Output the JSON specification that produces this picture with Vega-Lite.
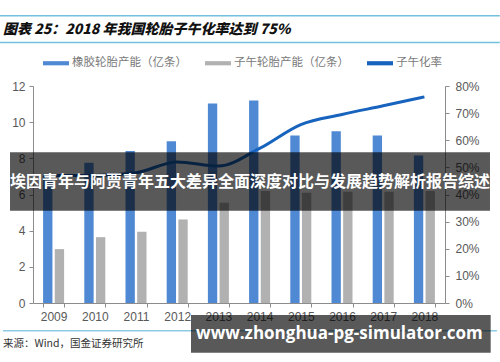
{
  "$schema": "https://vega.github.io/schema/vega-lite/v6.json",
  "width": 412,
  "height": 217,
  "autosize": {"type": "none"},
  "padding": {"left": 33, "top": 86, "right": 55, "bottom": 59},
  "background": "white",
  "title": {
    "text": "图表 25：2018 年我国轮胎子午化率达到 75%",
    "anchor": "start",
    "frame": "group",
    "dx": -30,
    "offset": -22,
    "font": "Noto Sans CJK SC",
    "fontSize": 14,
    "fontWeight": 900,
    "fontStyle": "italic",
    "color": "#111111"
  },
  "datasets": {
    "bars": [
      {"year": "2009", "series": "橡胶轮胎产能（亿条）", "value": 7.1},
      {"year": "2010", "series": "橡胶轮胎产能（亿条）", "value": 7.75},
      {"year": "2011", "series": "橡胶轮胎产能（亿条）", "value": 8.4},
      {"year": "2012", "series": "橡胶轮胎产能（亿条）", "value": 8.95},
      {"year": "2013", "series": "橡胶轮胎产能（亿条）", "value": 11.03},
      {"year": "2014", "series": "橡胶轮胎产能（亿条）", "value": 11.2},
      {"year": "2015", "series": "橡胶轮胎产能（亿条）", "value": 9.26},
      {"year": "2016", "series": "橡胶轮胎产能（亿条）", "value": 9.5},
      {"year": "2017", "series": "橡胶轮胎产能（亿条）", "value": 9.26},
      {"year": "2018", "series": "橡胶轮胎产能（亿条）", "value": 8.16},
      {"year": "2009", "series": "子午轮胎产能（亿条）", "value": 2.98},
      {"year": "2010", "series": "子午轮胎产能（亿条）", "value": 3.64},
      {"year": "2011", "series": "子午轮胎产能（亿条）", "value": 3.94},
      {"year": "2012", "series": "子午轮胎产能（亿条）", "value": 4.62},
      {"year": "2013", "series": "子午轮胎产能（亿条）", "value": 5.54},
      {"year": "2014", "series": "子午轮胎产能（亿条）", "value": 6.2},
      {"year": "2015", "series": "子午轮胎产能（亿条）", "value": 6.1},
      {"year": "2016", "series": "子午轮胎产能（亿条）", "value": 6.15},
      {"year": "2017", "series": "子午轮胎产能（亿条）", "value": 6.15},
      {"year": "2018", "series": "子午轮胎产能（亿条）", "value": 6.2}
    ],
    "rate": [
      {"year": "2009", "rate": 0.47},
      {"year": "2010", "rate": 0.47},
      {"year": "2011", "rate": 0.48},
      {"year": "2012", "rate": 0.52},
      {"year": "2013", "rate": 0.505},
      {"year": "2014", "rate": 0.57},
      {"year": "2015", "rate": 0.658},
      {"year": "2016", "rate": 0.695},
      {"year": "2017", "rate": 0.727},
      {"year": "2018", "rate": 0.76}
    ]
  },
  "layer": [
    {
      "layer": [
        {
          "data": {"name": "bars"},
          "mark": {"type": "bar"},
          "encoding": {
            "x": {
              "field": "year",
              "type": "ordinal",
              "scale": {"paddingInner": 0.49, "paddingOuter": 0.245},
              "axis": {"title": null, "labelAngle": 0, "tickBand": "extent", "labelPadding": 4}
            },
            "xOffset": {
              "field": "series",
              "type": "nominal",
              "scale": {"domain": ["橡胶轮胎产能（亿条）", "子午轮胎产能（亿条）"], "paddingInner": 0.2}
            },
            "y": {
              "field": "value",
              "type": "quantitative",
              "scale": {"domain": [0, 12], "nice": false},
              "axis": {"title": null, "orient": "left", "values": [0, 2, 4, 6, 8, 10, 12], "labelPadding": 4}
            },
            "color": {
              "field": "series",
              "type": "nominal",
              "scale": {
                "domain": ["橡胶轮胎产能（亿条）", "子午轮胎产能（亿条）", "子午化率"],
                "range": ["#4f88d3", "#b1b1b1", "#1763bd"]
              },
              "legend": {
                "title": null,
                "orient": "none",
                "direction": "horizontal",
                "legendX": 10,
                "legendY": -36,
                "symbolType": "M-1,-0.16H1V0.16H-1Z",
                "symbolSize": 676,
                "symbolStrokeWidth": 0,
                "symbolOpacity": 1,
                "labelFont": "Noto Sans CJK SC",
                "labelFontSize": 11.5,
                "labelColor": "#7a7a7a",
                "labelOffset": 3,
                "columnPadding": 18,
                "labelLimit": 200,
                "encode": {
                  "symbols": {"update": {"fill": {"scale": "color", "field": "value"}, "strokeWidth": {"value": 0}}}
                }
              }
            }
          }
        },
        {
          "data": {"name": "rate"},
          "mark": {"type": "line", "interpolate": "monotone", "strokeWidth": 3},
          "encoding": {
            "x": {"field": "year", "type": "ordinal"},
            "y": {
              "field": "rate",
              "type": "quantitative",
              "scale": {"domain": [0, 0.8], "nice": false},
              "axis": {"title": null, "orient": "right", "format": ".0%", "values": [0, 0.1, 0.2, 0.3, 0.4, 0.5, 0.6, 0.7, 0.8], "labelPadding": 6}
            },
            "color": {"datum": "子午化率"}
          }
        }
      ],
      "resolve": {"scale": {"y": "independent"}}
    },
    {
      "data": {"values": [{}]},
      "layer": [
        {
          "mark": {"type": "rule", "color": "#72c0dd", "strokeWidth": 1.5},
          "encoding": {
            "x": {"datum": -0.08, "type": "quantitative", "scale": {"domain": [0, 1], "nice": false, "zero": false}, "axis": null},
            "x2": {"datum": 1.133},
            "y": {"datum": 1.324, "type": "quantitative", "scale": {"domain": [0, 1], "nice": false, "zero": false}, "axis": null}
          }
        },
        {
          "mark": {"type": "rule", "color": "#72c0dd", "strokeWidth": 1.5},
          "encoding": {
            "x": {"datum": -0.08, "type": "quantitative"},
            "x2": {"datum": 1.133},
            "y": {"datum": 1.2, "type": "quantitative"}
          }
        },
        {
          "mark": {"type": "rule", "color": "#8ccbe2", "strokeWidth": 1.5},
          "encoding": {
            "x": {"datum": -0.073, "type": "quantitative"},
            "x2": {"datum": 1.126},
            "y": {"datum": -0.128, "type": "quantitative"}
          }
        },
        {
          "mark": {"type": "text", "align": "left", "baseline": "middle", "font": "Noto Sans CJK SC", "fontSize": 10.5, "color": "#333333"},
          "encoding": {
            "x": {"datum": -0.073, "type": "quantitative"},
            "y": {"datum": -0.189, "type": "quantitative"},
            "text": {"value": "来源：Wind，国金证券研究所"}
          }
        },
        {
          "mark": {"type": "rect", "color": "#000000", "opacity": 0.65},
          "encoding": {
            "x": {"datum": -0.0558, "type": "quantitative"},
            "x2": {"datum": 1.1092},
            "y": {"datum": 0.6945, "type": "quantitative"},
            "y2": {"datum": 0.4253}
          }
        },
        {
          "mark": {"type": "text", "align": "center", "baseline": "middle", "font": "Noto Sans CJK SC", "fontSize": 16, "fontWeight": "bold", "color": "#ffffff"},
          "encoding": {
            "x": {"datum": 0.5267, "type": "quantitative"},
            "y": {"datum": 0.5576, "type": "quantitative"},
            "text": {"value": "埃因青年与阿贾青年五大差异全面深度对比与发展趋势解析报告综述"}
          }
        },
        {
          "mark": {"type": "rect", "color": "#000000", "opacity": 0.65},
          "encoding": {
            "x": {"datum": 0.3835, "type": "quantitative"},
            "x2": {"datum": 1.1109},
            "y": {"datum": -0.0553, "type": "quantitative"},
            "y2": {"datum": -0.229}
          }
        },
        {
          "mark": {"type": "text", "align": "center", "baseline": "middle", "font": "Open Sans", "fontSize": 17, "fontWeight": "bold", "color": "#ffffff"},
          "encoding": {
            "x": {"datum": 0.7437, "type": "quantitative"},
            "y": {"datum": -0.1429, "type": "quantitative"},
            "text": {"value": "www.zhonghua-pg-simulator.com"}
          }
        }
      ]
    }
  ],
  "resolve": {"scale": {"x": "independent", "y": "independent"}},
  "config": {
    "view": {"stroke": null},
    "axis": {
      "grid": false,
      "labelFont": "Liberation Sans",
      "labelFontSize": 12,
      "labelColor": "#595959",
      "domainColor": "#8c8c8c",
      "tickColor": "#8c8c8c",
      "tickSize": 4
    }
  }
}
